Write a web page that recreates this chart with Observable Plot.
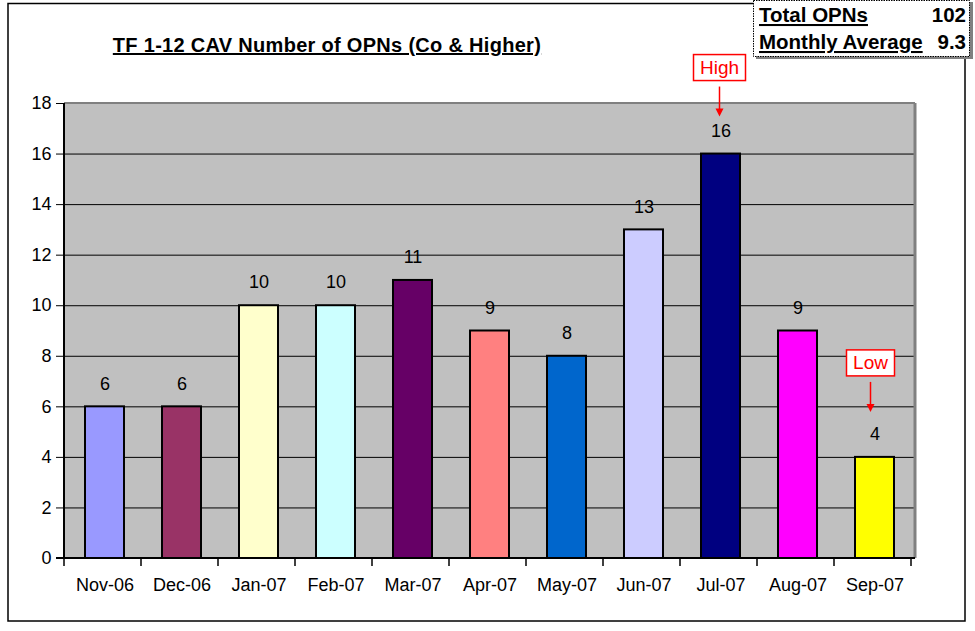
<!DOCTYPE html>
<html>
<head>
<meta charset="utf-8">
<script src="https://cdn.jsdelivr.net/npm/d3@7"></script>
<script src="https://cdn.jsdelivr.net/npm/@observablehq/plot@0.6"></script>
<style>
  html, body { margin: 0; padding: 0; background: white; }
  #chart { position: relative; width: 975px; height: 631px; }
</style>
</head>
<body>
<div id="chart"></div>
<script>
const months = ["Nov-06","Dec-06","Jan-07","Feb-07","Mar-07","Apr-07","May-07","Jun-07","Jul-07","Aug-07","Sep-07"];
const counts = [6, 6, 10, 10, 11, 9, 8, 13, 16, 9, 4];
const barColors = ["#9999FF","#993366","#FFFFCC","#CCFFFF","#660066","#FF8080","#0066CC","#CCCCFF","#000080","#FF00FF","#FFFF00"];
const yTicks = [0, 2, 4, 6, 8, 10, 12, 14, 16, 18];
const titleText = "TF 1-12 CAV Number of OPNs (Co & Higher)";
const annotationMonths = ["Jul-07", "Sep-07"];
const annotationLabels = ["High", "Low"];
const summaryLabels = ["Total OPNs", "Monthly Average"];
const summaryValues = ["102", "9.3"];

const data = months.map((m, i) => ({month: m, count: counts[i], color: barColors[i]}));
const FONT = "Arial, 'Liberation Sans', sans-serif";

const chart = Plot.plot({
  width: 975,
  height: 631,
  marginLeft: 64,
  marginRight: 60,
  marginTop: 103,
  marginBottom: 73,
  style: {fontFamily: FONT, fontSize: "18px", color: "black", background: "white", overflow: "visible"},
  x: {domain: months, paddingInner: 0.5, paddingOuter: 0.25},
  y: {domain: [0, 18]},
  color: {type: "identity"},
  marks: [
    Plot.frame({fill: "#C0C0C0"}),
    Plot.ruleY(yTicks.filter(d => d > 0 && d < 18), {stroke: "black", strokeWidth: 1}),
    Plot.barY(data, {x: "month", y: "count", fill: "color", stroke: "black", strokeWidth: 2}),
    Plot.text(data, {x: "month", y: "count", text: "count", dy: -23, fontSize: 18, fill: "black"}),
    Plot.axisY({ticks: yTicks, tickSize: 8, tickPadding: 5, fontSize: 18, label: null}),
    Plot.axisX({tickSize: 0, tickPadding: 20, fontSize: 18, label: null})
  ]
});

document.getElementById("chart").appendChild(chart);

const svg = d3.select(chart);
const xs = chart.scale("x");
const ys = chart.scale("y");
const step = xs.step;
const bw = xs.bandwidth;
const x0 = xs.range[0], x1 = xs.range[1];
const yTop = ys.apply(18), yBot = ys.apply(0);

// plot area borders
svg.append("line").attr("x1", x0).attr("x2", x1).attr("y1", yTop).attr("y2", yTop).attr("stroke", "#808080").attr("stroke-width", 2);
svg.append("line").attr("x1", x1).attr("x2", x1).attr("y1", yTop).attr("y2", yBot).attr("stroke", "#808080").attr("stroke-width", 3);
svg.append("line").attr("x1", x0).attr("x2", x0).attr("y1", yTop).attr("y2", yBot).attr("stroke", "black").attr("stroke-width", 2);
svg.append("line").attr("x1", x0 - 8).attr("x2", x1).attr("y1", yBot).attr("y2", yBot).attr("stroke", "black").attr("stroke-width", 2);
// boundary ticks on x axis
for (let i = 0; i <= months.length; i++) {
  const xx = x0 + i * step;
  svg.append("line").attr("x1", xx).attr("x2", xx).attr("y1", yBot).attr("y2", yBot + 8).attr("stroke", "black").attr("stroke-width", 1.5);
}

// outer border
svg.append("rect").attr("x", 8).attr("y", 3.5).attr("width", 957).attr("height", 617.5)
  .attr("fill", "none").attr("stroke", "black").attr("stroke-width", 1.5);

// title
svg.append("text").attr("x", 327).attr("y", 52).attr("text-anchor", "middle")
  .attr("font-family", FONT).attr("font-size", 20).attr("font-weight", "bold")
  .attr("letter-spacing", 0.3)
  .attr("text-decoration", "underline").attr("fill", "black").text(titleText);

// High / Low annotations
annotationMonths.forEach((m, i) => {
  const d = data.find(e => e.month === m);
  const cx = xs.apply(m) + bw / 2 - (i === 1 ? 4 : 1);
  const top = ys.apply(d.count);
  const boxH = 26, boxW = i === 0 ? 52 : 48;
  const boxY = top - (i === 0 ? 99 : 107);
  svg.append("rect").attr("x", cx - boxW / 2).attr("y", boxY).attr("width", boxW).attr("height", boxH)
    .attr("fill", "white").attr("stroke", "#FF0000").attr("stroke-width", 1.5);
  svg.append("text").attr("x", cx).attr("y", boxY + boxH / 2 + 6).attr("text-anchor", "middle")
    .attr("font-family", FONT).attr("font-size", 19).attr("fill", "#FF0000").text(annotationLabels[i]);
  const ay1 = boxY + boxH + 6, ay2 = ay1 + 30;
  svg.append("line").attr("x1", cx).attr("x2", cx).attr("y1", ay1).attr("y2", ay2 - 6)
    .attr("stroke", "#FF0000").attr("stroke-width", 1.5);
  svg.append("path").attr("d", `M${cx - 4},${ay2 - 8} L${cx + 4},${ay2 - 8} L${cx},${ay2} Z`).attr("fill", "#FF0000");
});

// summary box
const g = svg.append("g");
g.append("rect").attr("x", 756).attr("y", 2).attr("width", 217).attr("height", 57).attr("fill", "#808080");
g.append("rect").attr("x", 753.5).attr("y", 0.5).attr("width", 216).attr("height", 56)
  .attr("fill", "white").attr("stroke", "black").attr("stroke-width", 1).attr("stroke-dasharray", "1.5,1");
summaryLabels.forEach((lab, i) => {
  const yy = 22 + i * 27;
  g.append("text").attr("x", 759).attr("y", yy).attr("text-anchor", "start").attr("font-family", FONT).attr("font-size", 20.5)
    .attr("font-weight", "bold").attr("text-decoration", "underline").attr("fill", "black").text(lab);
  g.append("text").attr("x", 966).attr("y", yy).attr("text-anchor", "end").attr("font-family", FONT).attr("font-size", 20.5)
    .attr("font-weight", "bold").attr("fill", "black").text(summaryValues[i]);
});
</script>
</body>
</html>
